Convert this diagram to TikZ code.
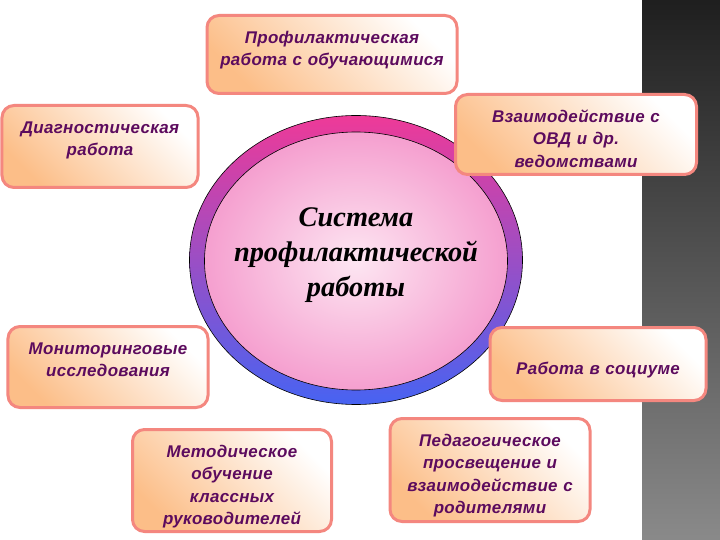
\documentclass[tikz,border=0pt]{standalone}
\usepackage{fontspec}
\setmainfont{Liberation Serif}
\newfontfamily\boxfont[LetterSpace=2]{Liberation Sans}
\usetikzlibrary{shapes.geometric}

\definecolor{boxedge}{HTML}{F4877F}
\definecolor{boxpeach}{HTML}{FCBE88}
\definecolor{textplum}{HTML}{5C0B5E}
\definecolor{ringtop}{HTML}{EE3A98}
\definecolor{ringmid}{HTML}{A548C6}
\definecolor{ringbot}{HTML}{4763F2}
\definecolor{corepink}{HTML}{F59FCF}
\definecolor{corelight}{HTML}{FDE6F2}

\begin{document}
\begin{tikzpicture}[x=1bp,y=-1bp]

\tikzset{topic/.style = {shape=rectangle, rounded corners=12bp, draw=boxedge,
  line width=3bp, top color=white, bottom color=boxpeach, shading angle=-45,
  anchor=north, inner xsep=6bp, inner ysep=12bp, text height=16bp,
  align=center, text=textplum,
  font=\boxfont\bfseries\itshape\fontsize{17}{22.5}\selectfont}}
\tikzset{ring/.style = {shape=ellipse, draw=black, line width=0.6bp,
  top color=ringtop, middle color=ringmid, bottom color=ringbot}}
\tikzset{core/.style = {shape=ellipse, draw=black, line width=0.6bp,
  inner color=corelight, outer color=corepink}}

% background
\fill[white] (0,0) rectangle (720,540);
\useasboundingbox (0,0) rectangle (720,540);
\shade[top color=black!88, middle color=black!60, bottom color=black!46]
  (642,0) rectangle (720,540);

% centre
\node[ring, minimum width=333bp, minimum height=289bp] (ring) at (356,260) {};
\node[core, minimum width=303bp, minimum height=258bp] (core) at (356,261) {};
\node[align=center, font=\bfseries\itshape\fontsize{28.5}{35.5}\selectfont]
  (title) at (356,255) {Система\\профилактической\\работы};

% boxes
\node[topic, minimum width=250bp, text width=238bp, text depth=38bp]
  (prof) at (332,14) {Профилактическая\\работа с обучающимися};
\node[topic, minimum width=196bp, text width=184bp, text depth=42bp]
  (diag) at (100,104) {Диагностическая\\работа};
\node[topic, minimum width=241bp, text width=229bp, text depth=40bp]
  (ovd) at (576,93) {Взаимодействие с\\ОВД и др.\\ведомствами};
\node[topic, minimum width=200bp, text width=188bp, text depth=41bp]
  (monit) at (108,325) {Мониторинговые\\исследования};
\node[topic, minimum width=216bp, text width=204bp, text height=35bp,
  text depth=14bp] (soc) at (598,326) {Работа в социуме};
\node[topic, minimum width=199bp, text width=187bp, text depth=62bp]
  (metod) at (232,428) {Методическое\\обучение\\классных\\руководителей};
\node[topic, minimum width=200bp, text width=188bp, text depth=63bp]
  (ped) at (490,417) {Педагогическое\\просвещение и\\взаимодействие с\\родителями};

\end{tikzpicture}
\end{document}
